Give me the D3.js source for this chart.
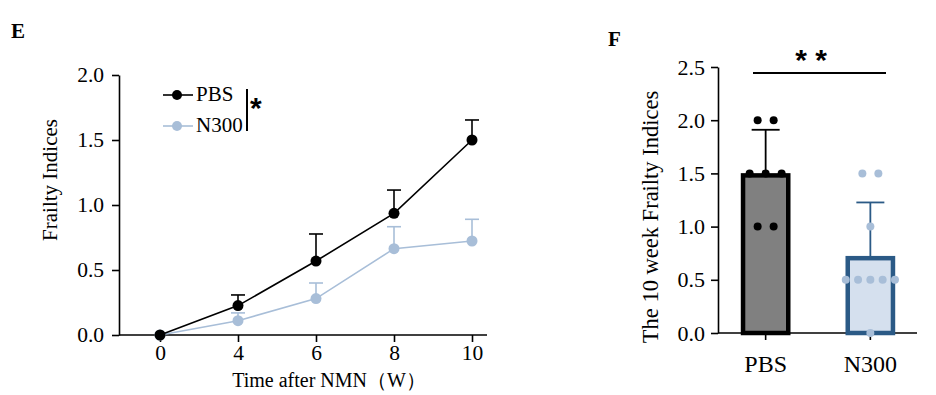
<!DOCTYPE html>
<html>
<head>
<meta charset="utf-8">
<script src="https://cdn.jsdelivr.net/npm/d3@7"></script>
<style>
  body { margin: 0; background: #fff; }
  svg { display: block; }
  text { font-family: "Liberation Serif", "Times New Roman", serif; fill: #000; }
</style>
</head>
<body>
<div id="area"></div>
<script>
// panel E: frailty over time
var weeks = ["0", "4", "6", "8", "10"];
var pbsMean = [0, 0.226, 0.569, 0.936, 1.50];
var pbsUpper = [0, 0.308, 0.777, 1.115, 1.654];
var n300Mean = [0, 0.11, 0.28, 0.664, 0.723];
var n300Upper = [0, 0.17, 0.40, 0.833, 0.89];
var yTicksE = [0, 0.5, 1.0, 1.5, 2.0];

// panel F: 10 week values
var groups = ["PBS", "N300"];
var groupMean = [1.5, 0.722];
var groupSD = [0.41, 0.505];
var pbsPoints = [2.0, 2.0, 1.5, 1.5, 1.5, 1.0, 1.0];
var n300Points = [1.5, 1.5, 1.0, 0.5, 0.5, 0.5, 0.5, 0.5, 0.0];
var yTicksF = [0, 0.5, 1.0, 1.5, 2.0, 2.5];

var black = "#000", lightBlue = "#a8bed8", darkBlue = "#2b5a86", barBlue = "#d5e0ee", gray = "#808080";

var svg = d3.select("#area").append("svg")
  .attr("width", 936).attr("height", 395);

// ---------- panel E ----------
svg.append("text").attr("x", 11).attr("y", 38)
  .style("font-size", "21px").style("font-weight", "bold").text("E");

var xE = d3.scalePoint().domain(weeks).range([160, 472]);
var yE = d3.scaleLinear().domain([0, 2]).range([335, 75]);

var gE = svg.append("g");

var yAxisE = gE.append("g").attr("transform", "translate(119,0)")
  .call(d3.axisLeft(yE).tickValues(yTicksE).tickFormat(d3.format(".1f")).tickSize(7).tickSizeOuter(0));
var xAxisE = gE.append("g").attr("transform", "translate(0,335)")
  .call(d3.axisBottom(xE).tickSize(7).tickSizeOuter(0));
xAxisE.select(".domain").attr("d", "M119,0H487");

[yAxisE, xAxisE].forEach(function (a) {
  a.selectAll("path, line").attr("stroke", black).attr("stroke-width", 1.6);
  a.selectAll("text").style("font-size", "21.5px").style("font-family", "Liberation Serif, serif").attr("fill", black);
});
yAxisE.selectAll("text").attr("x", -15);
xAxisE.selectAll("text").attr("y", 10);

gE.append("text").attr("transform", "translate(57,180) rotate(-90)")
  .attr("text-anchor", "middle").style("font-size", "21px").text("Frailty Indices");
gE.append("text").attr("x", 329).attr("y", 387)
  .attr("text-anchor", "middle").style("font-size", "20px").text("Time after NMN（W）");

var seriesE = [
  { name: "N300", mean: n300Mean, upper: n300Upper, color: lightBlue },
  { name: "PBS", mean: pbsMean, upper: pbsUpper, color: black }
];

var line = d3.line().x(function (d, i) { return xE(weeks[i]); }).y(function (d) { return yE(d); });

seriesE.forEach(function (s) {
  var g = gE.append("g");
  // upper error bars
  weeks.forEach(function (w, i) {
    if (s.upper[i] <= s.mean[i]) return;
    g.append("line").attr("x1", xE(w)).attr("x2", xE(w))
      .attr("y1", yE(s.mean[i])).attr("y2", yE(s.upper[i]))
      .attr("stroke", s.color).attr("stroke-width", 1.6);
    g.append("line").attr("x1", xE(w) - 7).attr("x2", xE(w) + 7)
      .attr("y1", yE(s.upper[i])).attr("y2", yE(s.upper[i]))
      .attr("stroke", s.color).attr("stroke-width", 1.6);
  });
  g.append("path").datum(s.mean).attr("d", line)
    .attr("fill", "none").attr("stroke", s.color).attr("stroke-width", 1.6);
  g.selectAll("circle").data(s.mean).enter().append("circle")
    .attr("cx", function (d, i) { return xE(weeks[i]); })
    .attr("cy", function (d) { return yE(d); })
    .attr("r", 5.5).attr("fill", s.color);
});

// legend
var legend = gE.append("g");
[{ name: "PBS", color: black, y: 95 }, { name: "N300", color: lightBlue, y: 126 }].forEach(function (d) {
  legend.append("line").attr("x1", 163).attr("x2", 193).attr("y1", d.y).attr("y2", d.y)
    .attr("stroke", d.color).attr("stroke-width", 1.6);
  legend.append("circle").attr("cx", 177).attr("cy", d.y).attr("r", 5).attr("fill", d.color);
  legend.append("text").attr("x", 196).attr("y", d.y + 6).style("font-size", "21px").text(d.name);
});
legend.append("line").attr("x1", 247).attr("x2", 247).attr("y1", 89).attr("y2", 131)
  .attr("stroke", black).attr("stroke-width", 2);
legend.append("text").attr("x", 250).attr("y", 118)
  .style("font-family", "Liberation Sans, Arial, sans-serif")
  .style("font-size", "30px").style("font-weight", "bold").text("*");

// ---------- panel F ----------
svg.append("text").attr("x", 608).attr("y", 46)
  .style("font-size", "21px").style("font-weight", "bold").text("F");

var xF = d3.scaleBand().domain(groups).range([718, 918]).paddingInner(0.53).paddingOuter(0.22);
var yF = d3.scaleLinear().domain([0, 2.5]).range([333, 67]);

var gF = svg.append("g");
var yAxisF = gF.append("g").attr("transform", "translate(718,0)")
  .call(d3.axisLeft(yF).tickValues(yTicksF).tickFormat(d3.format(".1f")).tickSize(7).tickSizeOuter(0));
var xAxisF = gF.append("g").attr("transform", "translate(0,333)")
  .call(d3.axisBottom(xF).tickSize(7).tickSizeOuter(0));
xAxisF.select(".domain").attr("d", "M718,0H917");

[yAxisF, xAxisF].forEach(function (a) {
  a.selectAll("path, line").attr("stroke", black).attr("stroke-width", 1.6);
  a.selectAll("text").style("font-family", "Liberation Serif, serif").attr("fill", black);
});
yAxisF.selectAll("text").style("font-size", "22px").attr("x", -13);
xAxisF.selectAll("text").style("font-size", "24px").attr("y", 22);

gF.append("text").attr("transform", "translate(658,217) rotate(-90)")
  .attr("text-anchor", "middle").style("font-size", "22.5px").text("The 10 week Frailty Indices");

var barStyle = [{ fill: gray, stroke: black, dot: black }, { fill: barBlue, stroke: darkBlue, dot: lightBlue }];
var groupPoints = [pbsPoints, n300Points];

groups.forEach(function (g, i) {
  var cx = xF(g) + xF.bandwidth() / 2;
  var top = yF(groupMean[i] + groupSD[i]);
  // error bar
  gF.append("line").attr("x1", cx).attr("x2", cx).attr("y1", yF(groupMean[i])).attr("y2", top)
    .attr("stroke", barStyle[i].stroke).attr("stroke-width", 1.8);
  gF.append("line").attr("x1", cx - 14).attr("x2", cx + 14).attr("y1", top).attr("y2", top)
    .attr("stroke", barStyle[i].stroke).attr("stroke-width", 1.8);
  // bar
  gF.append("rect").attr("x", xF(g) + 2).attr("width", xF.bandwidth() - 4)
    .attr("y", yF(groupMean[i]) + 2).attr("height", yF(0) - yF(groupMean[i]) - 2)
    .attr("fill", barStyle[i].fill).attr("stroke", barStyle[i].stroke).attr("stroke-width", 4.5);
});

// dots: spread points with the same value around the bar centre
groups.forEach(function (g, i) {
  var cx = xF(g) + xF.bandwidth() / 2;
  var counts = d3.rollup(groupPoints[i], function (v) { return v.length; }, function (d) { return d; });
  var seen = new Map();
  groupPoints[i].forEach(function (v) {
    var n = counts.get(v), k = seen.get(v) || 0;
    seen.set(v, k + 1);
    var step = n >= 5 ? 12.3 : 16;
    var off = (k - (n - 1) / 2) * step;
    gF.append("circle").attr("cx", cx + off).attr("cy", yF(v)).attr("r", 4)
      .attr("fill", barStyle[i].dot);
  });
});

// significance
gF.append("line").attr("x1", 753).attr("x2", 886).attr("y1", 73).attr("y2", 73)
  .attr("stroke", black).attr("stroke-width", 2);
gF.append("text").attr("x", 811).attr("y", 70).attr("text-anchor", "middle")
  .style("font-family", "Liberation Sans, Arial, sans-serif")
  .style("font-size", "30px").style("font-weight", "bold").text("* *");
</script>
</body>
</html>
